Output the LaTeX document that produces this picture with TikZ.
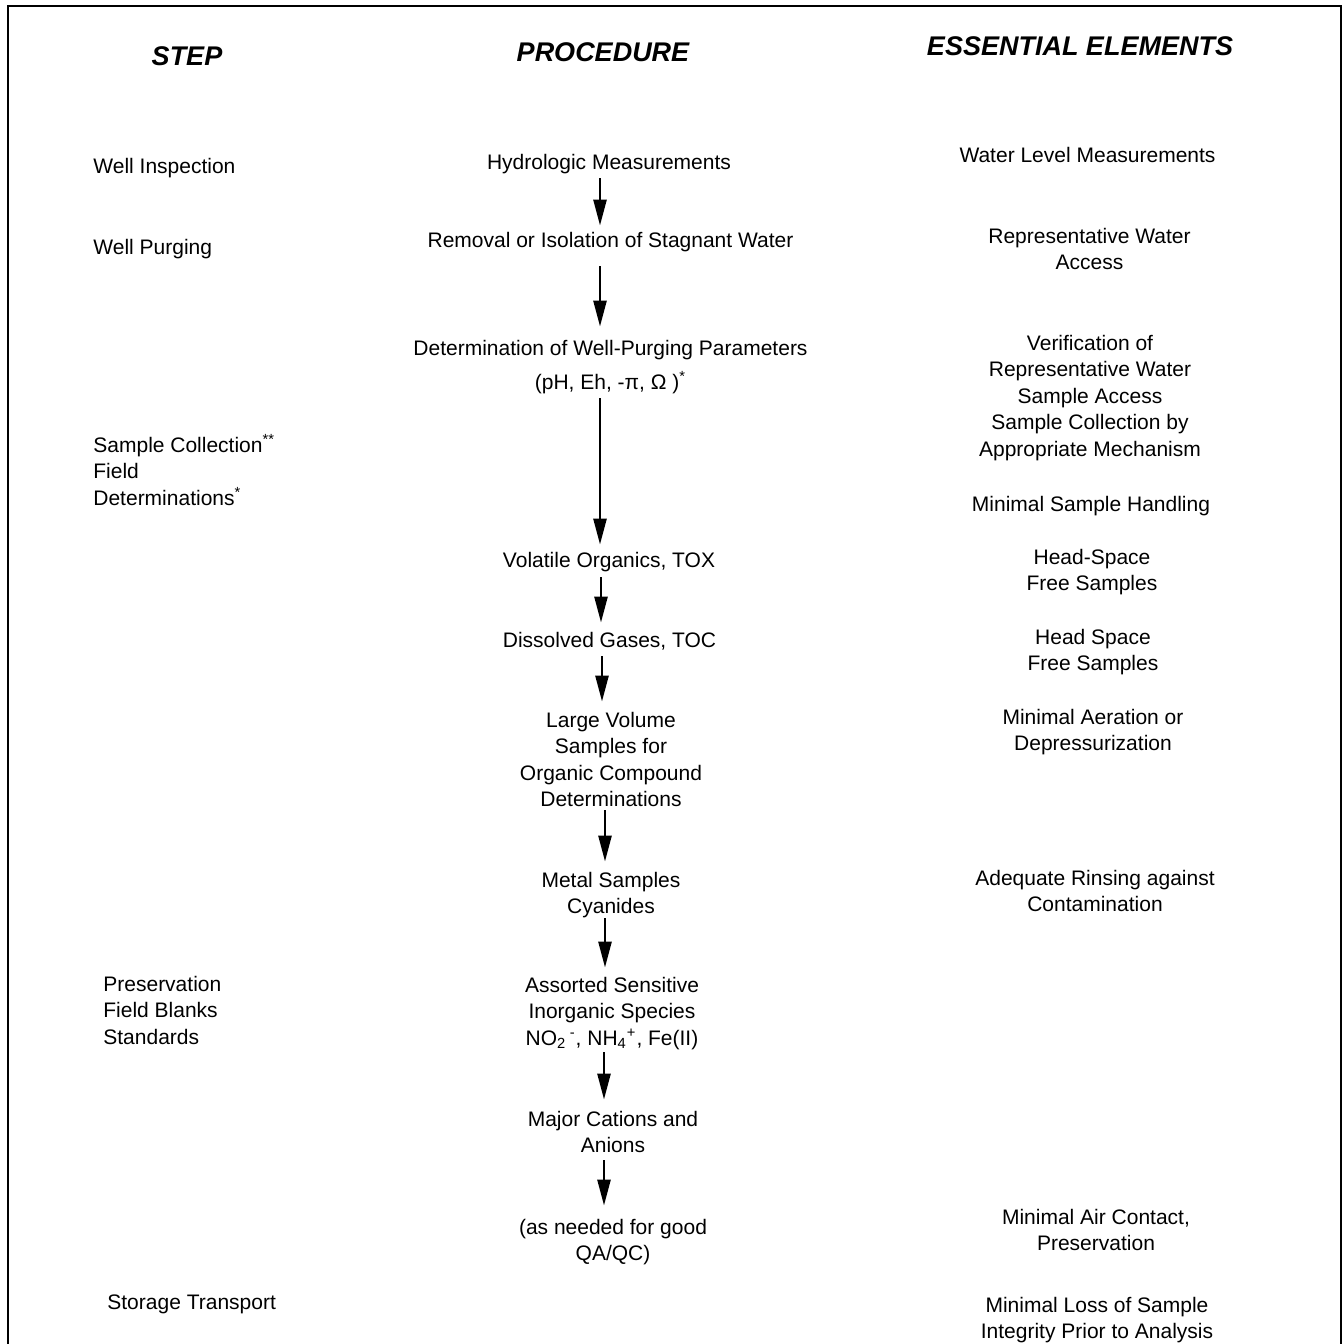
\documentclass[tikz,border=0pt]{standalone}
\usepackage{fontspec}
\setmainfont{Liberation Sans}
\usetikzlibrary{arrows.meta}
\newcommand\cstk[1]{\begin{tabular}[t]{@{}c@{}}#1\end{tabular}}
\newcommand\lstk[1]{\begin{tabular}[t]{@{}l@{}}#1\end{tabular}}
\begin{document}
\begin{tikzpicture}[x=0.5pt,y=-0.5pt,
  txt/.style={inner sep=0pt,anchor=base,font=\fontsize{10.5}{13.25}\selectfont},
  ltxt/.style={txt,anchor=base west},
  hdr/.style={inner sep=0pt,anchor=base,font=\fontsize{13.5}{16}\selectfont\bfseries\itshape},
  arr/.style={line width=1.3pt,-{Triangle[length=13pt,width=6.5pt]}}]
\useasboundingbox (0,0) rectangle (1343,1344);
\draw[line width=1.4pt] (8,1350) -- (8,6) -- (1341,6) -- (1341,1350);
% headers
\node[hdr] (hstep) at (187,65) {STEP};
\node[hdr] (hproc) at (603,61) {PROCEDURE};
\node[hdr] (hess) at (1080,55) {ESSENTIAL ELEMENTS};
% left column
\node[ltxt] (s1) at (93,173) {\lstk{Well Inspection}};
\node[ltxt] (s2) at (93,254) {\lstk{Well Purging}};
\node[ltxt] (s3) at (93,452) {\lstk{Sample Collection\textsuperscript{**}\\Field\\Determinations\textsuperscript{*}}};
\node[ltxt] (s4) at (103,991) {\lstk{Preservation\\Field Blanks\\Standards}};
\node[ltxt] (s5) at (107,1309) {\lstk{Storage Transport}};
% procedure column
\node[txt] (p1) at (609,169) {\cstk{Hydrologic Measurements}};
\node[txt] (p2) at (610.5,247) {\cstk{Removal or Isolation of Stagnant Water}};
\node[txt] (p3) at (610.5,355) {\cstk{Determination of Well-Purging Parameters\\[3.75pt](pH, Eh, -π, Ω )\textsuperscript{*}}};
\node[txt] (p4) at (609,567) {\cstk{Volatile Organics, TOX}};
\node[txt] (p5) at (609.5,647) {\cstk{Dissolved Gases, TOC}};
\node[txt] (p6) at (611,727) {\cstk{Large Volume\\Samples for\\Organic Compound\\Determinations}};
\node[txt] (p7) at (611,887) {\cstk{Metal Samples\\Cyanides}};
\node[txt] (p8) at (612,992) {\cstk{Assorted Sensitive\\Inorganic Species\\NO\textsubscript{2}\,\textsuperscript{-}, NH\textsubscript{4}\textsuperscript{+}, Fe(II)}};
\node[txt] (p9) at (613,1126) {\cstk{Major Cations and\\Anions}};
\node[txt] (p10) at (613,1234) {\cstk{(as needed for good\\QA/QC)}};
% essential elements column
\node[txt] (e1) at (1087.5,162) {\cstk{Water Level Measurements}};
\node[txt] (e2) at (1089.5,243) {\cstk{Representative Water\\Access}};
\node[txt] (e3) at (1090,350) {\cstk{Verification of\\Representative Water\\Sample Access\\Sample Collection by\\Appropriate Mechanism}};
\node[txt] (e4) at (1091,511) {\cstk{Minimal Sample Handling}};
\node[txt] (e5) at (1092,564) {\cstk{Head-Space\\Free Samples}};
\node[txt] (e6) at (1093,644) {\cstk{Head Space\\Free Samples}};
\node[txt] (e7) at (1093,724) {\cstk{Minimal Aeration or\\Depressurization}};
\node[txt] (e8) at (1095,885) {\cstk{Adequate Rinsing against\\Contamination}};
\node[txt] (e9) at (1096,1224) {\cstk{Minimal Air Contact,\\Preservation}};
\node[txt] (e10) at (1097,1312) {\cstk{Minimal Loss of Sample\\Integrity Prior to Analysis}};
% arrows
\draw[arr,shorten <=0.5pt,shorten >=1.25pt] ([xshift=-4.5pt]p1.south) -- ([xshift=-4.5pt]p1.south |- p2.north);
\draw[arr,shorten <=5.5pt,shorten >=4.75pt] ([xshift=-5.25pt]p2.south) -- ([xshift=-5.25pt]p2.south |- p3.north);
\draw[arr,shorten <=0.5pt,shorten >=1.75pt] ([xshift=-5.25pt]p3.south) -- ([xshift=-5.25pt]p3.south |- p4.north);
\draw[arr,shorten <=1pt,shorten >=2.75pt] ([xshift=-4pt]p4.south) -- ([xshift=-4pt]p4.south |- p5.north);
\draw[arr,shorten <=0.5pt,shorten >=3.25pt] ([xshift=-3.75pt]p5.south) -- ([xshift=-3.75pt]p5.south |- p6.north);
\draw[arr,shorten <=-2.25pt,shorten >=3.25pt] ([xshift=-3pt]p6.south) -- ([xshift=-3pt]p6.south |- p7.north);
\draw[arr,shorten <=-1.75pt,shorten >=2.75pt] ([xshift=-3pt]p7.south) -- ([xshift=-3pt]p7.south |- p8.north);
\draw[arr,shorten <=-0.5pt,shorten >=3.75pt] ([xshift=-4pt]p8.south) -- ([xshift=-4pt]p8.south |- p9.north);
\draw[arr,shorten <=-0.25pt,shorten >=4.75pt] ([xshift=-4.5pt]p9.south) -- ([xshift=-4.5pt]p9.south |- p10.north);
\end{tikzpicture}
\end{document}
